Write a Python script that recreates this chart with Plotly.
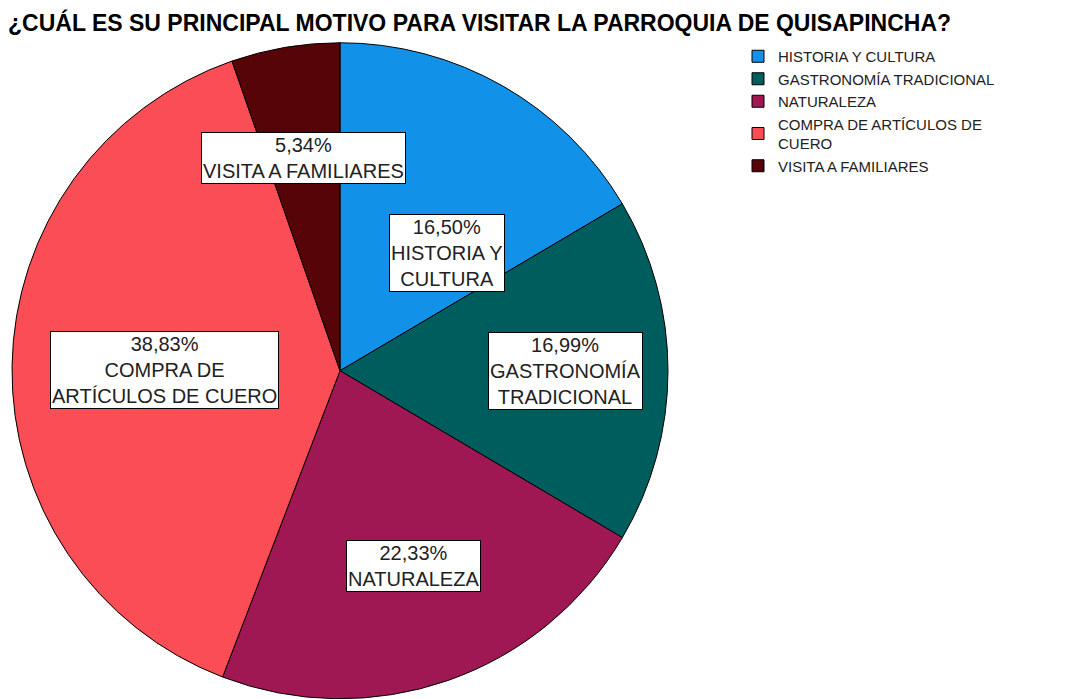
import math
import plotly.graph_objects as go

# ---- data ----
categories = ["HISTORIA Y CULTURA", "GASTRONOMÍA TRADICIONAL", "NATURALEZA",
              "COMPRA DE ARTÍCULOS DE CUERO", "VISITA A FAMILIARES"]
legend_names = ["HISTORIA Y CULTURA", "GASTRONOMÍA TRADICIONAL", "NATURALEZA",
                "COMPRA DE ARTÍCULOS DE<br>CUERO", "VISITA A FAMILIARES"]
label_names = ["HISTORIA Y<br>CULTURA", "GASTRONOMÍA<br>TRADICIONAL", "NATURALEZA",
               "COMPRA DE<br>ARTÍCULOS DE CUERO", "VISITA A FAMILIARES"]
percentages = [16.50, 16.99, 22.33, 38.83, 5.34]
title_text = "¿CUÁL ES SU PRINCIPAL MOTIVO PARA VISITAR LA PARROQUIA DE QUISAPINCHA?"

# ---- style / layout ----
colors = ["#1192E8", "#005D5D", "#9F1853", "#FA4D56", "#570408"]
label_radius_frac = [0.485, 0.689, 0.637, 0.534, 0.659]
label_angle_adjust = [12.6, 0.0, -1.5, -0.6, 0.0]

W, H = 1080, 699
dom_x = [12 / W, 668 / W]
dom_y = [0.0, 656.5 / H]
FONT = "Liberation Sans, Arial, sans-serif"

fig = go.Figure()
fig.add_trace(go.Pie(
    labels=legend_names,
    values=percentages,
    sort=False,
    direction="clockwise",
    rotation=0,
    marker=dict(colors=colors, line=dict(color="#000000", width=1)),
    textinfo="none",
    hoverinfo="label+percent",
    domain=dict(x=dom_x, y=dom_y),
    showlegend=True,
))

# label positions from slice mid-angles
cx = W * (dom_x[0] + dom_x[1]) / 2
cy = H * (dom_y[0] + dom_y[1]) / 2
R = min(W * (dom_x[1] - dom_x[0]), H * (dom_y[1] - dom_y[0])) / 2
total = sum(percentages)
cum = 0.0
annotations = []
for i, v in enumerate(percentages):
    mid = (cum + v / 2) / total * 360.0
    cum += v
    ang = math.radians(mid + label_angle_adjust[i])
    r = label_radius_frac[i] * R
    px = cx + r * math.sin(ang)
    py = cy + r * math.cos(ang)
    pct = f"{v:.2f}".replace(".", ",") + "%"
    annotations.append(dict(
        x=px / W, y=py / H, xref="paper", yref="paper",
        text=f"{pct}<br>{label_names[i]}",
        showarrow=False, align="center",
        xanchor="center", yanchor="middle",
        font=dict(family=FONT, size=20, color="#222222"),
        bgcolor="#FFFFFF", bordercolor="#000000", borderwidth=1, borderpad=1,
    ))

fig.update_layout(
    width=W, height=H,
    margin=dict(l=0, r=0, t=0, b=0),
    paper_bgcolor="#FFFFFF", plot_bgcolor="#FFFFFF",
    title=dict(text=f"<b>{title_text}</b>", x=8 / W, xanchor="left",
               y=1 - 22.5 / H, yanchor="middle",
               font=dict(family=FONT, size=23, color="#000000")),
    legend=dict(x=738 / W, xanchor="left", y=1 - 40 / H, yanchor="top",
                font=dict(family=FONT, size=15, color="#222222"),
                tracegroupgap=0, itemclick=False, bgcolor="rgba(0,0,0,0)"),
    annotations=annotations,
)

fig.write_html("out.html", config={"displayModeBar": False},
               post_script="document.body.style.margin='0';")
